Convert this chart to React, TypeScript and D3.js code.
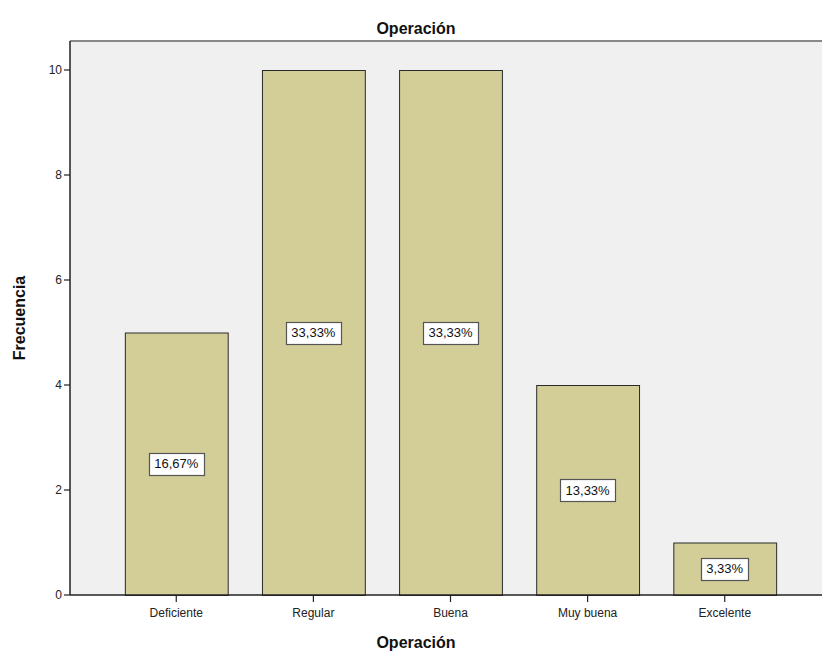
import React from "react";
import * as d3 from "d3";

const categories = ["Deficiente", "Regular", "Buena", "Muy buena", "Excelente"];
const frequencies = [5, 10, 10, 4, 1];
const percentLabels = ["16,67%", "33,33%", "33,33%", "13,33%", "3,33%"];
const yTicks = [0, 2, 4, 6, 8, 10];

const W = 822;
const H = 654;
const plotLeft = 70;
const plotRight = 831;
const plotTop = 41;
const plotBottom = 595;

export default function App() {
  const x = d3
    .scaleBand<string>()
    .domain(categories)
    .range([plotLeft, plotRight])
    .paddingInner(0.25)
    .paddingOuter(0.4);
  const y = d3.scaleLinear().domain([0, 10]).range([plotBottom, 70]);
  const font = "'Liberation Sans', Arial, sans-serif";
  const bw = x.bandwidth();

  return (
    <svg
      width={W}
      height={H}
      style={{ position: "absolute", left: 0, top: 0, background: "#fff" }}
      fontFamily={font}
    >
      <rect x={plotLeft} y={plotTop} width={W - plotLeft} height={plotBottom - plotTop} fill="#f0f0f0" />
      <line x1={plotLeft} x2={W} y1={plotTop} y2={plotTop} stroke="#888" strokeWidth={2} />
      {categories.map((c, i) => {
        const x0 = x(c)!;
        const y0 = y(frequencies[i]);
        return (
          <g key={c}>
            <rect
              x={x0 + 0.5}
              y={y0 + 0.5}
              width={bw}
              height={plotBottom - y0}
              fill="#d3ce98"
              stroke="#2a2a2a"
              strokeWidth={1}
            />
          </g>
        );
      })}
      {categories.map((c, i) => {
        const cx = x(c)! + bw / 2;
        const cy = y(frequencies[i] / 2);
        const tw = percentLabels[i].length * 8.2 + 6;
        return (
          <g key={"l" + c}>
            <rect
              x={Math.round(cx - tw / 2) + 0.5}
              y={Math.round(cy - 11) + 0.5}
              width={Math.round(tw)}
              height={22}
              fill="#fff"
              stroke="#555"
              strokeWidth={1.2}
            />
            <text x={cx} y={cy + 4.5} textAnchor="middle" fontSize={13} fill="#111">
              {percentLabels[i]}
            </text>
          </g>
        );
      })}
      {/* y axis */}
      <line x1={plotLeft} x2={plotLeft} y1={plotTop} y2={plotBottom} stroke="#222" strokeWidth={1.5} />
      {yTicks.map((t) => (
        <g key={t}>
          <line x1={plotLeft - 6} x2={plotLeft} y1={y(t)} y2={y(t)} stroke="#222" strokeWidth={1.2} />
          <text x={plotLeft - 8} y={y(t) + 4} textAnchor="end" fontSize={12} fill="#222">
            {t}
          </text>
        </g>
      ))}
      {/* x axis */}
      <line x1={plotLeft} x2={W} y1={plotBottom} y2={plotBottom} stroke="#222" strokeWidth={1.5} />
      {categories.map((c) => {
        const cx = x(c)! + bw / 2;
        return (
          <g key={"t" + c}>
            <line x1={cx} x2={cx} y1={plotBottom} y2={plotBottom + 7} stroke="#222" strokeWidth={1.2} />
            <text x={cx} y={plotBottom + 22} textAnchor="middle" fontSize={12} fill="#222">
              {c}
            </text>
          </g>
        );
      })}
      <text x={416} y={34} textAnchor="middle" fontSize={16} fontWeight="bold" fill="#111">
        Operación
      </text>
      <text x={416} y={648} textAnchor="middle" fontSize={16} fontWeight="bold" fill="#111">
        Operación
      </text>
      <text
        transform={`translate(25, ${(plotTop + plotBottom) / 2}) rotate(-90)`}
        textAnchor="middle"
        fontSize={16}
        fontWeight="bold"
        fill="#111"
      >
        Frecuencia
      </text>
    </svg>
  );
}
